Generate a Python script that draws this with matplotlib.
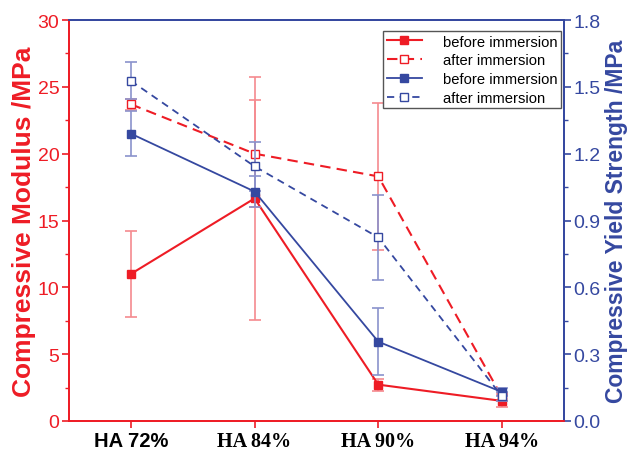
import matplotlib
matplotlib.use("Agg")
import matplotlib.pyplot as plt
from matplotlib.ticker import MultipleLocator

categories = ["HA 72%", "HA 84%", "HA 90%", "HA 94%"]
mod_before = [11.0, 16.65, 2.72, 1.5]
mod_before_err = [3.2, 9.1, 0.45, 0.45]
mod_after = [23.7, 20.0, 18.3, 1.8]
mod_after_err = [0.4, 4.0, 5.5, 0.3]
ys_before = [1.29, 1.03, 0.356, 0.13]
ys_before_err = [0.10, 0.07, 0.15, 0.02]
ys_after = [1.527, 1.143, 0.824, 0.11]
ys_after_err = [0.083, 0.11, 0.19, 0.02]

RED = "#ee1c25"
BLUE = "#3548a0"
RED_E = "#f58a8f"
BLUE_E = "#8a92cc"

plt.rcParams["font.family"] = ["Liberation Sans", "DejaVu Sans"]

fig = plt.figure(figsize=(6.3, 4.52), dpi=100)
ax = fig.add_axes([0.1095, 0.0664, 0.7855, 0.8871])
ax2 = ax.twinx()

x = list(range(len(categories)))
ekw = dict(capsize=4, elinewidth=1.2, capthick=1.2)

l1 = ax.errorbar(x, mod_before, yerr=mod_before_err, color=RED, ecolor=RED_E,
                 marker="s", ms=6, lw=1.5, ls="-", mfc=RED, mec=RED, **ekw)
l2 = ax.errorbar(x, mod_after, yerr=mod_after_err, color=RED, ecolor=RED_E,
                 marker="s", ms=6, lw=1.5, ls=(0, (5, 3)), mfc="white", mec=RED, **ekw)
l3 = ax2.errorbar(x, ys_before, yerr=ys_before_err, color=BLUE, ecolor=BLUE_E,
                  marker="s", ms=6, lw=1.3, ls="-", mfc=BLUE, mec=BLUE, **ekw)
l4 = ax2.errorbar(x, ys_after, yerr=ys_after_err, color=BLUE, ecolor=BLUE_E,
                  marker="s", ms=6, lw=1.3, ls=(0, (4, 3)), mfc="white", mec=BLUE, **ekw)

ax.set_xlim(-0.5, 3.5)
ax.set_ylim(0, 30)
ax2.set_ylim(0, 1.8)
ax.yaxis.set_major_locator(MultipleLocator(5))
ax.yaxis.set_minor_locator(MultipleLocator(2.5))
ax2.yaxis.set_major_locator(MultipleLocator(0.3))
ax2.yaxis.set_minor_locator(MultipleLocator(0.15))
ax2.set_yticks(ax2.get_yticks())
ax2.set_yticklabels([f"{v:.1f}" for v in ax2.get_yticks()])
ax2.set_ylim(0, 1.8)

ax.set_xticks(x)
ax.set_xticklabels(categories)
for i, t in enumerate(ax.get_xticklabels()):
    t.set_fontweight("bold")
    t.set_fontsize(14.5)
    if i > 0:
        t.set_fontfamily(["Liberation Serif", "DejaVu Serif"])

for a in (ax, ax2):
    a.spines["left"].set_color(RED)
    a.spines["bottom"].set_color(RED)
    a.spines["right"].set_color(BLUE)
    a.spines["top"].set_color(BLUE)
    for s in a.spines.values():
        s.set_linewidth(1.3)

ax.tick_params(axis="y", which="both", direction="out", colors=RED, labelsize=14)
ax.tick_params(axis="y", which="major", length=5, width=1.2, pad=2)
ax.tick_params(axis="y", which="minor", length=3, width=1.0)
ax.tick_params(axis="x", direction="out", color=RED, length=5, width=1.2,
               labelcolor="black", pad=2)
ax2.tick_params(axis="y", which="both", direction="out", colors=BLUE, labelsize=14)
ax2.tick_params(axis="y", which="major", length=5, width=1.2, pad=2)
ax2.tick_params(axis="y", which="minor", length=3, width=1.0)

ax.set_ylabel("Compressive Modulus /MPa", color=RED, fontsize=19, fontweight="bold", labelpad=1)
ax2.set_ylabel("Compressive Yield Strength /MPa", color=BLUE, fontsize=16.5, fontweight="bold", labelpad=3)

leg = ax2.legend([l1[0], l2[0], l3[0], l4[0]],
                 ["before immersion", "after immersion",
                  "before immersion", "after immersion"],
                 loc="upper right", bbox_to_anchor=(0.994, 0.973), fontsize=10.6,
                 frameon=True, fancybox=False, edgecolor="#555555", framealpha=1,
                 handlelength=2.4, borderpad=0.25, labelspacing=0.32, handletextpad=1.4,
                 borderaxespad=0)
leg.get_frame().set_linewidth(1.0)
leg.set_zorder(10)

fig.savefig("out.png", dpi=100)
